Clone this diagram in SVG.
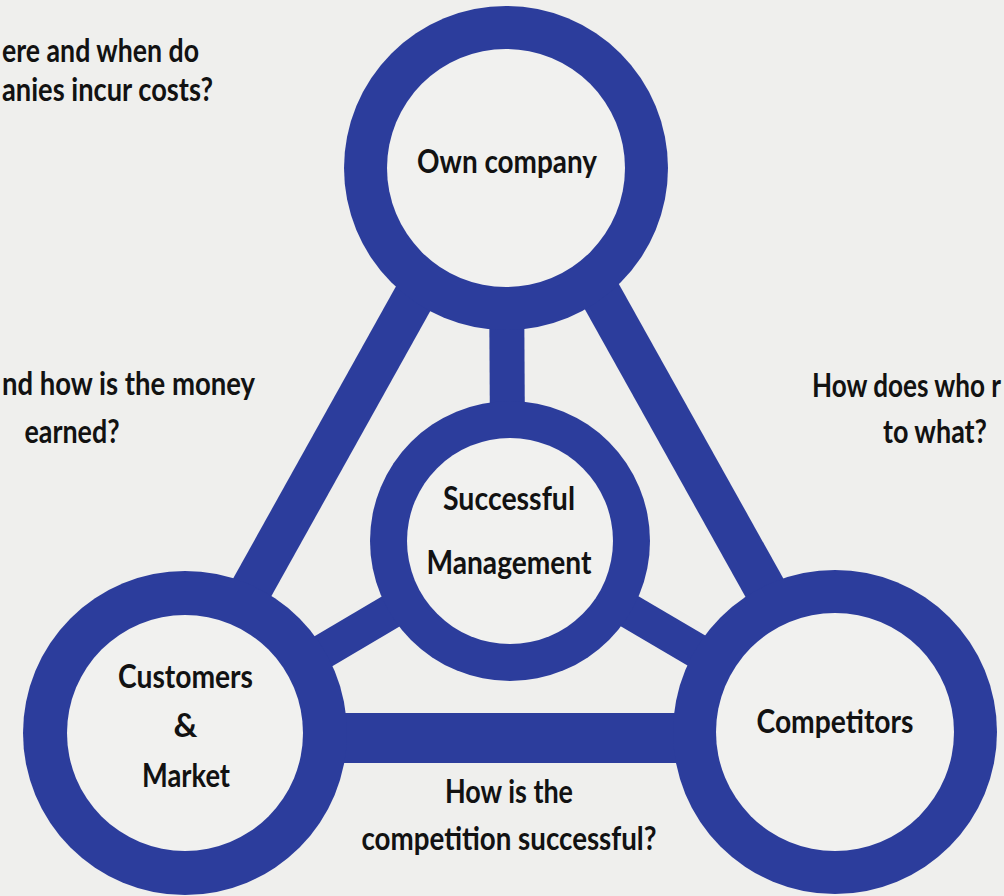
<svg xmlns="http://www.w3.org/2000/svg" width="1004" height="896" viewBox="0 0 1004 896">
<style>
.ring{fill:#2c3d9c}
.hole{fill:#f1f1ef}
.bar{stroke:#2c3d9c;fill:none;stroke-linecap:butt}
text{font-family:Lato,"Open Sans","Liberation Sans",sans-serif;font-weight:700;font-size:33px;fill:#121212}
.m{text-anchor:middle}
.e{text-anchor:end}
</style>
<rect width="1004" height="896" fill="#efefed"/>
<g id="connectors">
<line class="bar" x1="506" y1="168" x2="508" y2="541" stroke-width="35"/>
<line class="bar" x1="486" y1="168" x2="171" y2="733" stroke-width="42"/>
<line class="bar" x1="530" y1="168" x2="845" y2="732" stroke-width="42"/>
<line class="bar" x1="185" y1="738" x2="835" y2="738" stroke-width="50"/>
<line class="bar" x1="510" y1="541" x2="185" y2="733" stroke-width="35"/>
<line class="bar" x1="510" y1="541" x2="835" y2="732" stroke-width="35"/>
</g>
<g id="own-company">
<circle class="ring" cx="506" cy="168" r="162"/>
<circle class="hole" cx="506" cy="168" r="119"/>
<text class="m" x="507" y="173" textLength="180" lengthAdjust="spacingAndGlyphs">Own company</text>
</g>
<g id="successful-management">
<circle class="ring" cx="510" cy="541" r="140"/>
<circle class="hole" cx="510" cy="541" r="103"/>
<text class="m" x="509" y="510" textLength="132" lengthAdjust="spacingAndGlyphs">Successful</text>
<text class="m" x="509" y="574" textLength="165" lengthAdjust="spacingAndGlyphs">Management</text>
</g>
<g id="customers-market">
<circle class="ring" cx="185" cy="733" r="162"/>
<circle class="hole" cx="185" cy="733" r="118"/>
<text class="m" x="185.5" y="688" textLength="135" lengthAdjust="spacingAndGlyphs">Customers</text>
<text class="m" x="185.5" y="737">&amp;</text>
<text class="m" x="186" y="787" textLength="88" lengthAdjust="spacingAndGlyphs">Market</text>
</g>
<g id="competitors">
<circle class="ring" cx="835" cy="732" r="162"/>
<circle class="hole" cx="835" cy="732" r="119"/>
<text class="m" x="835" y="733" textLength="157" lengthAdjust="spacingAndGlyphs">Competitors</text>
</g>
<g id="questions">
<text x="2" y="62" textLength="197" lengthAdjust="spacingAndGlyphs">ere and when do</text>
<text x="2" y="101" textLength="211" lengthAdjust="spacingAndGlyphs">anies incur costs?</text>
<text x="2" y="395" textLength="253" lengthAdjust="spacingAndGlyphs">nd how is the money</text>
<text class="m" x="72" y="443" textLength="95" lengthAdjust="spacingAndGlyphs">earned?</text>
<text x="812" y="397" textLength="189" lengthAdjust="spacingAndGlyphs">How does who r</text>
<text class="m" x="935" y="443" textLength="104" lengthAdjust="spacingAndGlyphs">to what?</text>
<text class="m" x="509" y="803" textLength="128" lengthAdjust="spacingAndGlyphs">How is the</text>
<text class="m" x="509" y="850" textLength="295" lengthAdjust="spacingAndGlyphs">competition successful?</text>
</g>
</svg>
